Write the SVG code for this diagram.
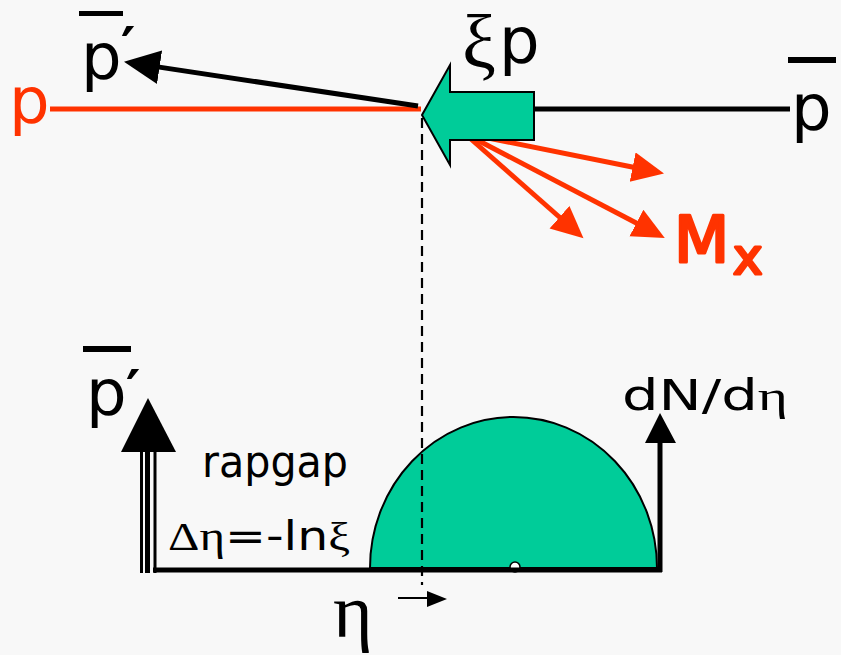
<svg xmlns="http://www.w3.org/2000/svg" width="841" height="655" viewBox="0 0 841 655">
<defs>
<style>
.sans{font-family:"DejaVu Sans","Liberation Sans",sans-serif;}
.serif{font-family:"Liberation Serif","DejaVu Serif",serif;}
.blk{fill:#000;}
.red{fill:#ff3300;}
.green{fill:#00cc99;stroke:#000;stroke-width:2;}
.bl{stroke:#000;stroke-width:5;fill:none;}
.rl{stroke:#ff3300;stroke-width:5;fill:none;}
.prime{font-weight:bold;}
.heavy{stroke:#ff3300;stroke-width:3;stroke-linejoin:round;}
</style>
<marker id="hRed" markerUnits="userSpaceOnUse" markerWidth="34" markerHeight="32" refX="2" refY="15" orient="auto">
<path d="M0,0 L32,15 L0,30 z" fill="#ff3300"/>
</marker>
<marker id="hBlk" markerUnits="userSpaceOnUse" markerWidth="38" markerHeight="36" refX="2" refY="17" orient="auto">
<path d="M0,0 L36,17 L0,34 z" fill="#000"/>
</marker>
</defs>
<rect width="841" height="655" fill="#f8f8f8"/>

<g id="connectors">
<line class="rl" x1="50" y1="109" x2="421" y2="109"/>
<line class="bl" x1="534" y1="109" x2="790" y2="109"/>
<line class="bl" x1="418" y1="106" x2="157.6" y2="66.9" marker-end="url(#hBlk)"/>
<line class="rl" x1="478" y1="136" x2="634.6" y2="167.5" marker-end="url(#hRed)"/>
<line class="rl" x1="455" y1="125" x2="561" y2="218.5" marker-end="url(#hRed)"/>
<line class="rl" x1="462" y1="132" x2="638.2" y2="224" marker-end="url(#hRed)"/>
</g>

<g id="pomeron-arrow">
<polygon class="green" points="422,115 450,65 450,92 534,92 534,140 450,140 450,165"/>
</g>

<g id="label-p">
<text class="sans red" x="9" y="123" font-size="64">p</text>
</g>
<g id="label-pbar-prime-top">
<rect x="79" y="11" width="44" height="5" fill="#000"/>
<text class="sans blk" x="81" y="79" font-size="64">p<tspan class="prime" dx="-1" y="66" font-size="56">′</tspan></text>
</g>
<g id="label-pbar-right">
<rect x="788" y="57" width="48" height="6" fill="#000"/>
<text class="sans blk" x="791" y="130" font-size="64">p</text>
</g>
<g id="label-xip">
<text class="blk" x="462" y="68"><tspan class="serif" font-size="76">ξ</tspan><tspan class="sans" x="499" y="63" font-size="64">p</tspan></text>
</g>
<g id="label-mx">
<text class="sans red heavy" x="674" y="262" font-size="64">M<tspan x="733" y="274" font-size="50">x</tspan></text>
</g>

<g id="distribution">
<path class="green" d="M370,568 A143.5,151 0 0 1 657,568 Z"/>
<circle cx="515" cy="567" r="5" fill="#fff" stroke="#000" stroke-width="1.5"/>
</g>

<g id="dashed-line">
<line x1="422" y1="118" x2="422" y2="585" stroke="#000" stroke-width="2.2" stroke-dasharray="10,6"/>
</g>

<g id="axis">
<line class="bl" x1="153" y1="570" x2="662" y2="570"/>
<line class="bl" x1="660" y1="572" x2="660" y2="440"/>
<polygon points="660,413 676,443 645,443" fill="#000"/>
</g>

<g id="gap-arrow">
<line x1="141.5" y1="452" x2="141.5" y2="573" stroke="#000" stroke-width="3"/>
<line x1="147.5" y1="452" x2="147.5" y2="573" stroke="#000" stroke-width="5"/>
<line x1="155" y1="452" x2="155" y2="573" stroke="#000" stroke-width="3"/>
<polygon points="148,398 176,452 121,452" fill="#000"/>
</g>

<g id="label-pbar-prime-bottom">
<rect x="83" y="346" width="48" height="6" fill="#000"/>
<text class="sans blk" x="86" y="415" font-size="64">p<tspan class="prime" dx="-1" y="409" font-size="56">′</tspan></text>
</g>

<g id="label-rapgap">
<text class="sans blk" x="202" y="477" font-size="44" textLength="146" lengthAdjust="spacingAndGlyphs">rapgap</text>
<text class="blk" x="168" y="550" font-size="40" textLength="182" lengthAdjust="spacingAndGlyphs"><tspan class="serif">Δη</tspan><tspan class="sans">=-ln</tspan><tspan class="serif">ξ</tspan></text>
</g>

<g id="label-eta">
<text class="serif blk" x="333" y="637" font-size="76">η</text>
<line x1="398" y1="598" x2="430" y2="598" stroke="#000" stroke-width="2"/>
<polygon points="427,591 447,599 427,607" fill="#000"/>
</g>

<g id="label-dndeta">
<text class="blk" x="622" y="410" font-size="42" textLength="166" lengthAdjust="spacingAndGlyphs"><tspan class="sans">dN/d</tspan><tspan class="serif">η</tspan></text>
</g>
</svg>
